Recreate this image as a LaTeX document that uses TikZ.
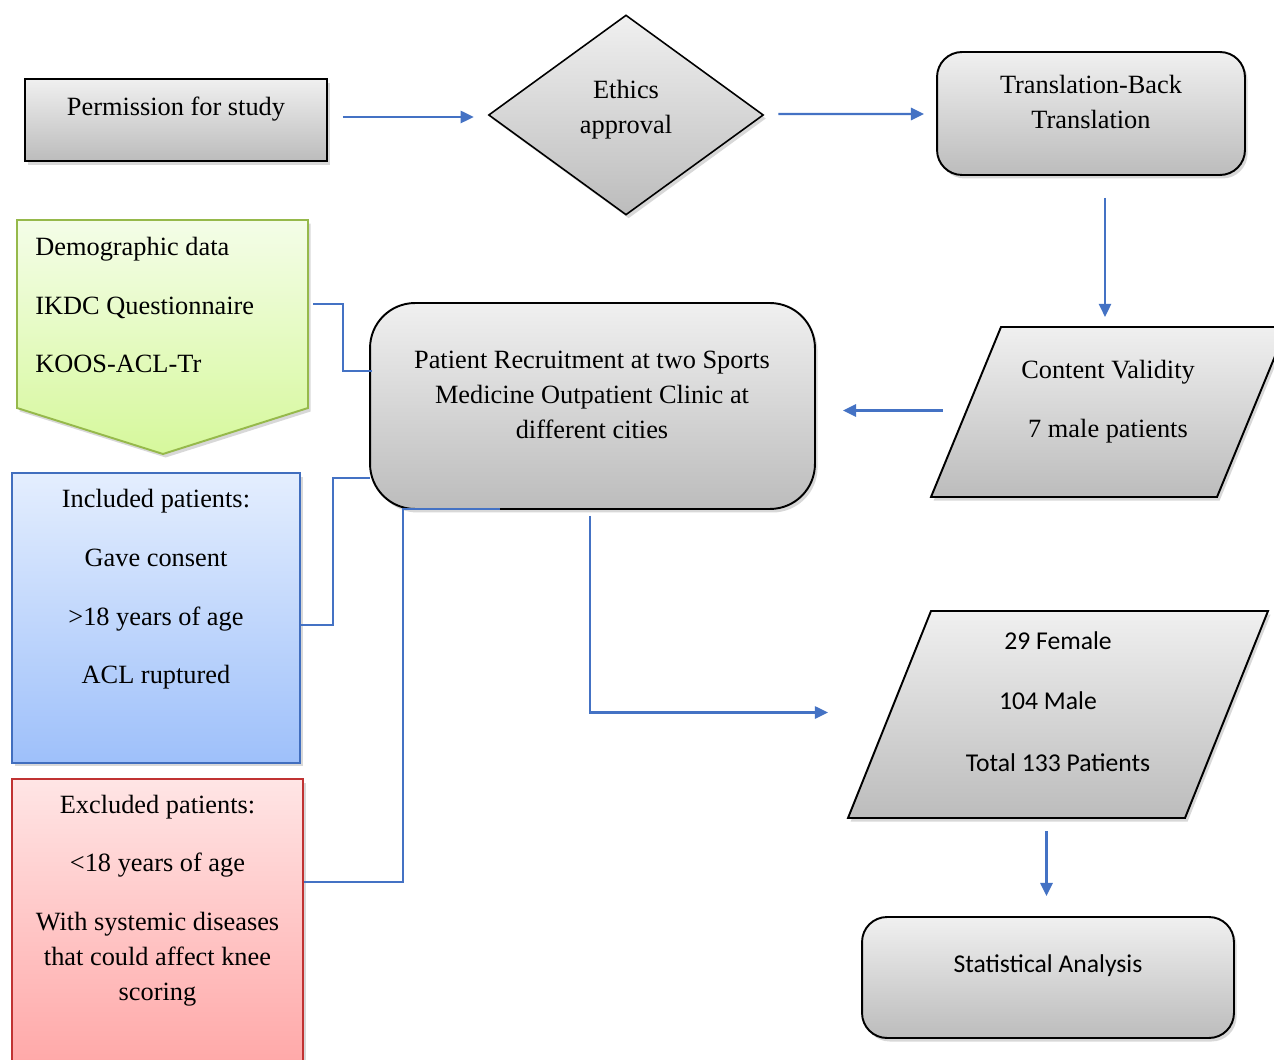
\documentclass[tikz,border=0pt]{standalone}
\usepackage{fontspec}
\setmainfont{Liberation Serif}
\newfontfamily\calib{Carlito}
\usetikzlibrary{shapes.geometric,shadows,arrows.meta,calc}
\definecolor{lnblue}{RGB}{68,114,196}
\definecolor{grT}{RGB}{240,240,240}
\definecolor{grB}{RGB}{188,188,188}
\definecolor{gnD}{RGB}{150,185,75}
\definecolor{gnT}{RGB}{244,253,232}
\definecolor{gnB}{RGB}{214,248,156}
\definecolor{blD}{RGB}{65,110,190}
\definecolor{blT}{RGB}{228,238,254}
\definecolor{blB}{RGB}{158,192,250}
\definecolor{rdD}{RGB}{192,50,50}
\definecolor{rdT}{RGB}{255,229,229}
\definecolor{rdB}{RGB}{255,166,166}
\begin{document}
\begin{tikzpicture}[x=0.02cm,y=-0.02cm,
  shad/.style={drop shadow={opacity=0.3,shadow xshift=1.5pt,shadow yshift=-2pt}},
  gbox/.style={draw=black, line width=1.1pt, top color=grT, bottom color=grB, shad},
  txt/.style={font=\fontsize{15}{19.85}\selectfont, align=center, inner sep=0pt},
  stxt/.style={font=\calib\fontsize{14.6}{18}\selectfont, inner sep=0pt},
  conn/.style={draw=lnblue, line width=1.2pt},
  arr/.style={conn, -{Triangle[length=7.5pt,width=7pt]}}]
\useasboundingbox (0,0) rectangle (1274,1060);
\clip (0,0) rectangle (1274,1060);
\fill[white] (0,0) rectangle (1274,1060);

% shapes
\node[gbox, rectangle, minimum width=6.04cm, minimum height=1.64cm, inner sep=0pt] (perm) at (176,120) {};
\node[gbox, diamond, line width=0.9pt, minimum width=5.5cm, minimum height=4cm, inner sep=0pt] (eth) at (626,115) {};
\node[gbox, rectangle, rounded corners=0.5cm, minimum width=6.16cm, minimum height=2.46cm, inner sep=0pt] (trans) at (1091,113.5) {};
\path[gbox] (1001,327) coordinate (cvTL) -- (1287,327) coordinate (cvTR) -- (1217,497) coordinate (cvBR) -- (931,497) coordinate (cvBL) -- cycle;
\node[gbox, rectangle, rounded corners=0.9cm, minimum width=8.9cm, minimum height=4.12cm, inner sep=0pt] (rec) at (592.5,406) {};
\path[draw=gnD, line width=1.1pt, top color=gnT, bottom color=gnB, shad] (17,220) coordinate (dTL) -- (308,220) coordinate (dTR) -- (308,408) coordinate (dR) -- (163,454) coordinate (dTip) -- (17,408) coordinate (dL) -- cycle;
\node[draw=blD, line width=1.1pt, top color=blT, bottom color=blB, shad, rectangle, minimum width=5.76cm, minimum height=5.8cm, inner sep=0pt] (inc) at (156,618) {};
\node[draw=rdD, line width=1.1pt, top color=rdT, bottom color=rdB, shad, rectangle, minimum width=5.82cm, minimum height=5.92cm, inner sep=0pt] (exc) at (157.5,927) {};
\path[gbox] (931,611) coordinate (fmTL) -- (1268,611) coordinate (fmTR) -- (1185,818) coordinate (fmBR) -- (848,818) coordinate (fmBL) -- cycle;
\node[gbox, rectangle, rounded corners=0.5cm, minimum width=7.44cm, minimum height=2.42cm, inner sep=0pt] (stat) at (1048,977.5) {};

% texts
\node[txt] (permT) at (176,109) {Permission for study};
\node[txt] (ethT) at (626,109.5) {Ethics\\approval};
\node[txt] (transT) at (1091,102) {Translation-Back\\Translation};
\node[txt] (cvT) at (1108,401.5) {Content Validity\\[13.6pt]7 male patients};
\node[txt] (recT) at (592,395) {Patient Recruitment at two Sports\\Medicine Outpatient Clinic at\\different cities};
\node[txt, align=left, anchor=west] (demT) at (35,305) {Demographic data\\[13.3pt]IKDC Questionnaire\\[13.3pt]KOOS-ACL-Tr};
\node[txt] (incT) at (156,589.5) {Included patients:\\[13.6pt]Gave consent\\[13.6pt]>18 years of age\\[13.6pt]ACL ruptured};
\node[txt] (excT) at (157.5,900.5) {Excluded patients:\\[13.3pt]<18 years of age\\[13.6pt]With systemic diseases\\that could affect knee\\scoring};
\node[stxt] (f29) at (1058,641) {29 Female};
\node[stxt] (m104) at (1048,701) {104 Male};
\node[stxt] (tot) at (1058,763) {Total 133 Patients};
\node[stxt] (statT) at (1048,965.5) {Statistical Analysis};

% connectors
\coordinate (gOut) at ($(dTR)+(5,84)$);
\draw[conn] (gOut) -- ++(30,0) |- ($(rec.west)+(3,-35)$);
\draw[conn] ($(inc.east)+(0,7)$) -- ++(32,0) |- ($(rec.west)+(1,72)$);
\draw[conn] ($(exc.east)+(0,-45)$) -- ++(99,0) |- ($(rec.south)+(-92.5,-1)$);
\coordinate (fmIn) at (828,712.5);
\draw[arr] ($(rec.south)+(-2.5,6)$) |- (fmIn);
\draw[arr] ($(perm.east)+(15,-3)$) -- ($(eth.west)+(-14,2)$);
\draw[arr] ($(eth.east)+(14,-1)$) -- ($(trans.west)+(-12,0.5)$);
\draw[arr] ($(trans.south)+(14,22)$) -- ++(0,119);
\draw[arr] ($(rec.east)+(127,4.5)$) -- ($(rec.east)+(27,4.5)$);
\draw[arr] ($(stat.north)+(-1.5,-85)$) -- ($(stat.north)+(-1.5,-20)$);
\end{tikzpicture}
\end{document}
